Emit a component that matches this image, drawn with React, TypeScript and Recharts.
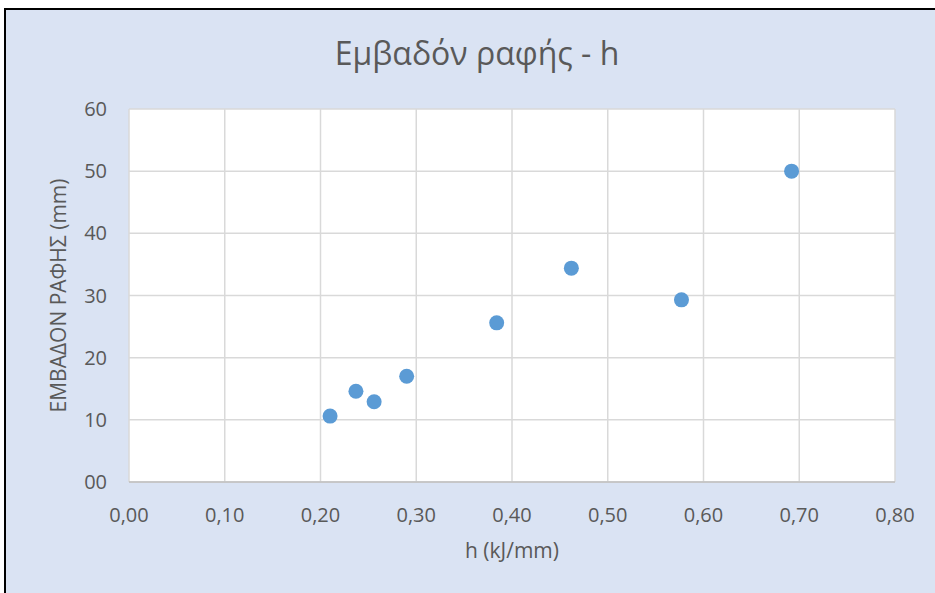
// Scatter plot: seam area vs heat input h

import React from 'react';
import { ScatterChart, Scatter, XAxis, YAxis, CartesianGrid, Label } from 'recharts';

const hValues = [0.21, 0.237, 0.256, 0.29, 0.384, 0.462, 0.577, 0.692];
const areaValues = [10.6, 14.6, 12.9, 17.0, 25.6, 34.4, 29.3, 50.0];
const xTicks = [0, 0.1, 0.2, 0.3, 0.4, 0.5, 0.6, 0.7, 0.8];
const yTicks = [0, 10, 20, 30, 40, 50, 60];

const chartTitle = 'Εμβαδόν ραφής - h';
const xTitle = 'h (kJ/mm)';
const yTitle = 'ΕΜΒΑΔΟΝ ΡΑΦΗΣ (mm)';

const textColor = '#595959';
const font = '"Open Sans", sans-serif';

const points = hValues.map((h, i) => ({ h, area: areaValues[i] }));

const Dot = (props: any) => {
  const { cx, cy } = props;
  return <circle cx={cx} cy={cy} r={7.5} fill="#5b9bd5" />;
};

const App: React.FC = () => {
  return (
    <div style={{ position: 'fixed', left: 0, top: 0, width: 935, height: 593, background: '#fff' }}>
      <div
        style={{
          position: 'absolute',
          left: 4,
          top: 8,
          width: 931,
          height: 585,
          background: '#dae3f3',
          borderLeft: '2px solid #000',
          borderTop: '2px solid #000',
          boxSizing: 'border-box',
        }}
      />
      <div
        style={{
          position: 'absolute',
          left: 0,
          top: 34,
          width: 954,
          textAlign: 'center',
          fontFamily: font,
          fontSize: 32,
          fontWeight: 400,
          color: textColor,
          lineHeight: '38px',
        }}
      >
        {chartTitle}
      </div>
      <div style={{ position: 'absolute', left: 0, top: 0 }}>
        <ScatterChart
          width={935}
          height={593}
          margin={{ top: 109, right: 40, bottom: 41, left: 69 }}
          style={{ fontFamily: font }}
        >
          <CartesianGrid stroke="#d9d9d9" strokeWidth={1.5} fill="#ffffff" fillOpacity={1} />
          <XAxis
            type="number"
            dataKey="h"
            domain={[0, 0.8]}
            ticks={xTicks}
            interval={0}
            height={70}
            tickSize={0}
            tickMargin={26}
            axisLine={{ stroke: '#bfbfbf', strokeWidth: 1.5 }}
            tickLine={false}
            tick={{ fill: textColor, fontSize: 20 }}
            tickFormatter={(v: number) => v.toFixed(2).replace('.', ',')}
          >
            <Label value={xTitle} position="insideBottom" offset={-6} fill={textColor} fontSize={21} />
          </XAxis>
          <YAxis
            type="number"
            dataKey="area"
            domain={[0, 60]}
            ticks={yTicks}
            interval={0}
            width={60}
            tickSize={0}
            tickMargin={22}
            axisLine={false}
            tickLine={false}
            tick={{ fill: textColor, fontSize: 20 }}
            tickFormatter={(v: number) => (v === 0 ? '00' : String(v))}
          >
            <Label
              value={yTitle}
              angle={-90}
              position="insideLeft"
              offset={-10}
              style={{ textAnchor: 'middle' }}
              fill={textColor}
              fontSize={21}
            />
          </YAxis>
          <Scatter data={points} shape={Dot} isAnimationActive={false} />
        </ScatterChart>
      </div>
    </div>
  );
};

export default App;
